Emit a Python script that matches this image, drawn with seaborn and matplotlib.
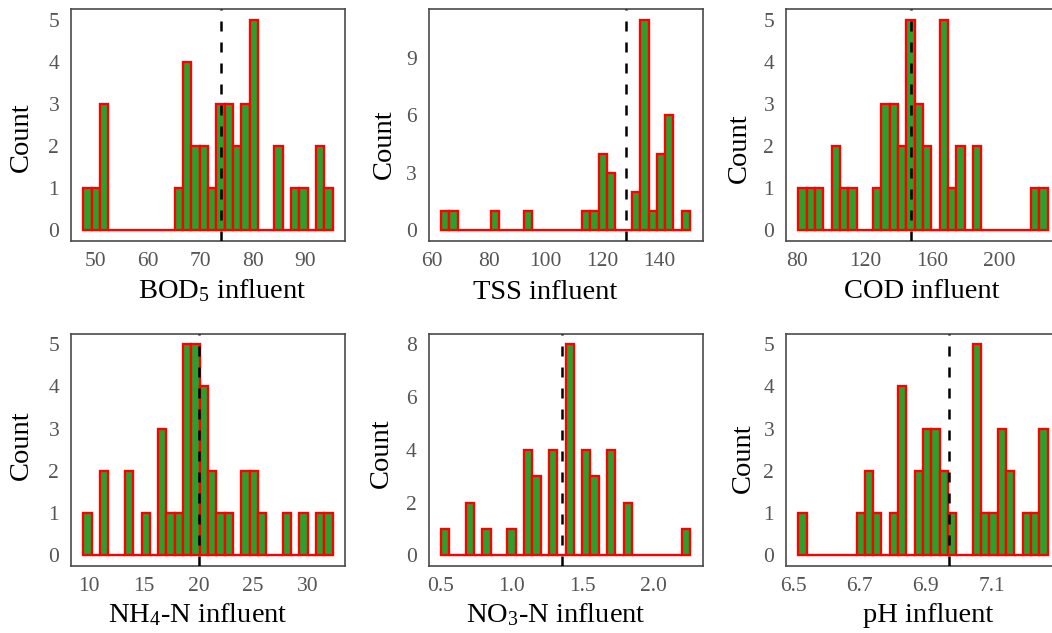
import numpy as np
import matplotlib
matplotlib.use("Agg")
import matplotlib.pyplot as plt
import seaborn as sns

# ---------------- data ----------------
bod_counts = [1, 1, 3, 0, 0, 0, 0, 0, 0, 0, 0, 1, 4, 2, 2, 1, 3, 3, 2, 3, 5, 0, 0, 2, 0, 1, 1, 0, 2, 1]
bod_range = (47.8, 95.2)
bod_mean = 74.0

tss_counts = [1, 1, 0, 0, 0, 0, 1, 0, 0, 0, 1, 0, 0, 0, 0, 0, 0, 1, 1, 4, 3, 0, 0, 2, 11, 1, 4, 6, 0, 1]
tss_range = (63.15, 150.75)
tss_mean = 128.1

cod_counts = [1, 1, 1, 0, 2, 1, 1, 0, 0, 1, 3, 3, 2, 5, 3, 2, 0, 5, 1, 2, 0, 2, 0, 0, 0, 0, 0, 0, 1, 1]
cod_range = (80.6, 228.4)
cod_mean = 147.2

nh4_counts = [1, 0, 2, 0, 0, 2, 0, 1, 0, 3, 1, 1, 5, 5, 4, 2, 1, 1, 0, 2, 2, 1, 0, 0, 1, 0, 1, 0, 1, 1]
nh4_range = (9.49, 32.27)
nh4_mean = 20.1

no3_counts = [1, 0, 0, 2, 0, 1, 0, 0, 1, 0, 4, 3, 0, 4, 0, 8, 0, 4, 3, 0, 4, 0, 2, 0, 0, 0, 0, 0, 0, 1]
no3_range = (0.50, 2.257)
no3_mean = 1.357

ph_counts = [1, 0, 0, 0, 0, 0, 0, 1, 2, 1, 0, 1, 4, 0, 2, 3, 3, 2, 1, 0, 0, 5, 1, 1, 3, 2, 0, 1, 1, 3]
ph_range = (6.515, 7.269)
ph_mean = 6.972

x_labels = ["BOD$_5$ influent", "TSS influent", "COD influent",
            "NH$_4$-N influent", "NO$_3$-N influent", "pH influent"]
x_ticks = [[50, 60, 70, 80, 90], [60, 80, 100, 120, 140], [80, 120, 160, 200],
           [10, 15, 20, 25, 30], [0.5, 1.0, 1.5, 2.0], [6.5, 6.7, 6.9, 7.1]]
x_tick_labels = [["50", "60", "70", "80", "90"], ["60", "80", "100", "120", "140"],
                 ["80", "120", "160", "200"], ["10", "15", "20", "25", "30"],
                 ["0.5", "1.0", "1.5", "2.0"], ["6.5", "6.7", "6.9", "7.1"]]
y_ticks = [[0, 1, 2, 3, 4, 5], [0, 3, 6, 9], [0, 1, 2, 3, 4, 5],
           [0, 1, 2, 3, 4, 5], [0, 2, 4, 6, 8], [0, 1, 2, 3, 4, 5]]
y_label = "Count"

panels = [
    (bod_counts, bod_range, bod_mean),
    (tss_counts, tss_range, tss_mean),
    (cod_counts, cod_range, cod_mean),
    (nh4_counts, nh4_range, nh4_mean),
    (no3_counts, no3_range, no3_mean),
    (ph_counts, ph_range, ph_mean),
]

# ---------------- style ----------------
sns.set_theme(style="white")
plt.rcParams["font.family"] = ["Liberation Serif", "DejaVu Serif"]
plt.rcParams["mathtext.fontset"] = "custom"
plt.rcParams["mathtext.rm"] = "Liberation Serif"
plt.rcParams["mathtext.it"] = "Liberation Serif:italic"
plt.rcParams["mathtext.bf"] = "Liberation Serif:bold"

W, H = 1052, 633
fig = plt.figure(figsize=(W / 100, H / 100), dpi=100)

col_left = [71, 428.5, 786]
row_top = [9, 333.5]
row_bot = [241, 566]
pw = 274

xlab_pos = [(222.5, 298), (545, 299), (921.7, 298), (197.5, 622), (555.8, 622), (928.3, 622)]
ylab_pos = [(21.7, 137), (384, 144), (739, 148), (21, 445), (381, 453), (743, 458)]

fill_col = "#2CA02C"
edge_col = "#FF0000"
tick_col = "#555555"
frame_col = "#4A4A4A"

for i, (counts, rng, mean) in enumerate(panels):
    r, c = divmod(i, 3)
    left = col_left[c]
    top, bot = row_top[r], row_bot[r]
    ax = fig.add_axes([left / W, (H - bot) / H, pw / W, (bot - top) / H])

    n = len(counts)
    edges = np.linspace(rng[0], rng[1], n + 1)
    centers = (edges[:-1] + edges[1:]) / 2
    sns.histplot(x=centers, weights=counts, bins=n, binrange=rng,
                 color=fill_col, edgecolor=edge_col, linewidth=1.7,
                 alpha=1.0, ax=ax)
    ax.axvline(mean, color="black", linestyle=(0, (4, 4.4)), linewidth=1.8, zorder=5)

    span = rng[1] - rng[0]
    ax.set_xlim(rng[0] - 0.05 * span, rng[1] + 0.05 * span)
    ymax = max(counts)
    ax.set_ylim(-0.05 * ymax, 1.05 * ymax)

    ax.set_xticks(x_ticks[i])
    ax.set_xticklabels(x_tick_labels[i])
    ax.set_yticks(y_ticks[i])
    ax.set_xlabel("")
    ax.set_ylabel("")
    ax.tick_params(axis="both", which="both", direction="out", length=5, width=1.3,
                   color=frame_col, labelcolor=tick_col, labelsize=15.5)
    ax.tick_params(axis="x", pad=3.0)
    ax.tick_params(axis="y", pad=3.5)
    for s in ax.spines.values():
        s.set_visible(True)
        s.set_color(frame_col)
        s.set_linewidth(1.2)

    xl, yl = xlab_pos[i]
    fig.text(xl / W, (H - yl) / H, x_labels[i], ha="center", va="baseline",
             fontsize=20.5, color="black")
    yx, yy = ylab_pos[i]
    fig.text(yx / W, (H - yy) / H, y_label, ha="center", va="center",
             rotation=90, fontsize=20.5, color="black")

fig.savefig("out.png", dpi=100)
